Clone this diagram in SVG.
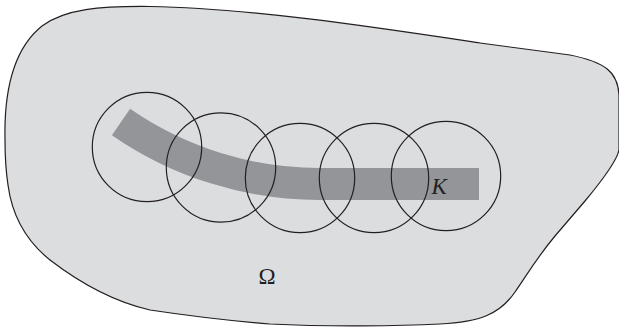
<svg xmlns="http://www.w3.org/2000/svg" width="619" height="329" viewBox="0 0 619 329">
<style>
.ring{fill:none;stroke:#231f20;stroke-width:1.2}
.lbl{font-family:"Liberation Serif","Times New Roman",serif;font-size:23px;fill:#231f20}
</style>
<rect width="619" height="329" fill="#ffffff"/>
<g id="omega-region">
<path d="M5,140 C4,95 12,50 42,26 C65,9 100,6 150,6.5 C250,8 380,28 480,43 L570,55 C605,62 618,72 619,95 L619,150 C617,160 600,183 585,201 L555,236 C535,260 525,278 515,292 C500,314 480,322 440,324 C400,326 330,327 270,324 C220,320 190,316 150,310 C115,302 80,283 50,260 C25,240 12,215 8,185 C5,165 5,150 5,140 Z" fill="#dcdddf" stroke="#231f20" stroke-width="1.2"/>
</g>
<g id="K-set">
<path d="M121,122 A348,348 0 0 0 319,184 L479,184" fill="none" stroke="#939598" stroke-width="32"/>
</g>
<g id="balls">
<circle class="ring" cx="147" cy="147" r="54.7"/>
<circle class="ring" cx="221" cy="167.5" r="54.7"/>
<circle class="ring" cx="300" cy="178" r="54.7"/>
<circle class="ring" cx="374" cy="178" r="54.7"/>
<circle class="ring" cx="446" cy="176" r="54.7"/>
</g>
<text class="lbl" x="431.5" y="193.5" font-style="italic" font-size="24">K</text>
<text class="lbl" x="258.5" y="284">Ω</text>
</svg>
